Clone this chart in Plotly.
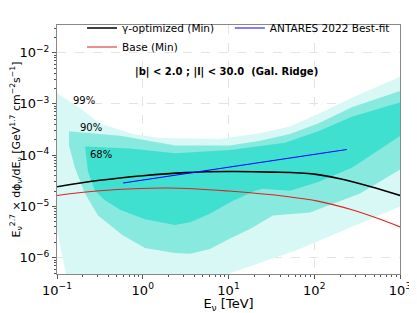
import plotly.graph_objects as go

# ---- data (E in TeV, flux in GeV^1.7 cm^-2 s^-1) ----
# 99% band
e99_up = [0.1, 0.201, 0.317, 0.769, 1.59, 4.66, 7.96, 23.3, 52.1, 111, 275, 1000]
f99_up = [1.64e-3, 7.57e-4, 4.14e-4, 2.58e-4, 2.17e-4, 2.08e-4, 2.08e-4, 2.69e-4, 3.64e-4, 6.37e-4, 1.32e-3, 3.41e-3]
e99_lo = [0.1, 0.127, 0.158, 1.0, 7.94, 9.86, 63.1, 1000]
f99_lo = [3.48e-6, 4.81e-7, 1.58e-7, 6.31e-8, 2.51e-7, 4.81e-7, 1.41e-6, 1.0e-5]
# 90% band
e90_up = [0.138, 0.573, 2.38, 10.4, 23.3, 52.1, 111, 275, 1000]
f90_up = [2.93e-4, 2.37e-4, 1.54e-4, 1.54e-4, 1.91e-4, 2.58e-4, 4.14e-4, 8.61e-4, 1.79e-3]
e90_lo = [0.138, 0.162, 0.212, 0.301, 0.573, 1.06, 2.38, 3.56, 6.08, 10.4, 17.8, 33.0, 45.6, 89.1, 342, 1000]
f90_lo = [1.54e-4, 5.71e-5, 1.79e-5, 6.64e-6, 2.81e-6, 1.54e-6, 1.24e-6, 1.19e-6, 1.47e-6, 2.37e-6, 3.64e-6, 6.64e-6, 6.93e-6, 7.59e-6, 1.79e-5, 5.25e-5]
# 68% band
e68_up = [0.212, 0.710, 2.38, 10.4, 45.6, 111, 275, 1000]
f68_up = [1.47e-4, 1.35e-4, 1.09e-4, 1.26e-4, 1.75e-4, 2.93e-4, 5.60e-4, 1.07e-3]
e68_lo = [0.212, 0.230, 0.277, 0.363, 0.543, 1.06, 2.38, 3.56, 6.08, 10.4, 20.4, 25.2, 52.1, 111, 275, 1000]
f68_lo = [1.47e-4, 4.81e-5, 2.03e-5, 1.32e-5, 8.61e-6, 5.60e-6, 4.33e-6, 4.92e-6, 7.24e-6, 1.21e-5, 2.03e-5, 2.22e-5, 2.03e-5, 3.00e-5, 5.71e-5, 2.37e-4]

# curves
e_gamma = [0.1, 0.316, 1, 3.16, 10, 31.6, 100, 200, 447, 1000]
f_gamma = [2.42e-5, 3.24e-5, 3.98e-5, 4.57e-5, 4.79e-5, 4.68e-5, 4.27e-5, 3.47e-5, 2.45e-5, 1.64e-5]
e_base = [0.1, 0.316, 2.0, 10, 50.1, 110, 275, 589, 1000]
f_base = [1.64e-5, 2.03e-5, 2.29e-5, 2.0e-5, 1.55e-5, 1.27e-5, 8.61e-6, 5.60e-6, 3.98e-6]
e_antares = [0.59, 240]
f_antares = [2.87e-5, 1.29e-4]

x_ticks = [0.1, 1, 10, 100, 1000]
x_ticktext = ["10<sup>−1</sup>", "10<sup>0</sup>", "10<sup>1</sup>", "10<sup>2</sup>", "10<sup>3</sup>"]
y_ticks = [1e-6, 1e-5, 1e-4, 1e-3, 1e-2]
y_ticktext = ["10<sup>−6</sup>", "10<sup>−5</sup>", "10<sup>−4</sup>", "10<sup>−3</sup>", "10<sup>−2</sup>"]

FONT = "DejaVu Sans"

fig = go.Figure()

def band(e_up, f_up, e_lo, f_lo, color):
    fig.add_trace(go.Scatter(
        x=e_up + e_lo[::-1], y=f_up + f_lo[::-1],
        fill="toself", fillcolor=color, mode="lines", line=dict(width=0),
        showlegend=False, hoverinfo="skip"))

band(e99_up, f99_up, e99_lo, f99_lo, "#d7f8f4")
band(e90_up, f90_up, e90_lo, f90_lo, "#88e9de")
band(e68_up, f68_up, e68_lo, f68_lo, "#40e0d0")

fig.add_trace(go.Scatter(x=e_gamma, y=f_gamma, mode="lines", name="γ-optimized (Min)",
                         line=dict(color="black", width=1.6, shape="spline"), legend="legend"))
fig.add_trace(go.Scatter(x=e_base, y=f_base, mode="lines", name="Base (Min)",
                         line=dict(color="#dd2020", width=1.1, shape="spline"), legend="legend"))
fig.add_trace(go.Scatter(x=e_antares, y=f_antares, mode="lines", name="ANTARES 2022 Best-fit",
                         line=dict(color="blue", width=1.1), legend="legend2"))

minor_x = [m * 10 ** k for k in range(-1, 3) for m in range(2, 10)]
minor_y = [m * 10 ** k for k in range(-7, -1) for m in range(2, 10)]

axis_common = dict(showline=True, linecolor="#888888", linewidth=1, mirror=True,
                   ticks="outside", ticklen=4, tickcolor="#555555", automargin=False,
                   showgrid=True, gridcolor="#e3e3e3", griddash="dash", gridwidth=1,
                   zeroline=False, tickfont=dict(family=FONT, size=13, color="black"))

fig.update_xaxes(type="log", range=[-1, 3], tickvals=x_ticks, ticktext=x_ticktext,
                 title=dict(text="E<sub>ν</sub> [TeV]", font=dict(family=FONT, size=13, color="black"), standoff=2),
                 minor=dict(tickvals=minor_x, ticks="outside", ticklen=2, tickcolor="#555555", showgrid=False),
                 **axis_common)
fig.update_yaxes(type="log", range=[-6.318, -1.46], tickvals=y_ticks, ticktext=y_ticktext,
                 title=dict(text="E<sub>ν</sub><sup>2.7</sup> × dϕ<sub>ν</sub>/dE<sub>ν</sub> [GeV<sup>1.7</sup> cm<sup>−2</sup>s<sup>−1</sup>]",
                            font=dict(family=FONT, size=11, color="black"), standoff=5),
                 minor=dict(tickvals=minor_y, ticks="outside", ticklen=2, tickcolor="#555555", showgrid=False),
                 **axis_common)

fig.add_annotation(text="<b>|b| < 2.0 ; |l| < 30.0  (Gal. Ridge)</b>", x=0.4956, y=0.8115,
                   xref="paper", yref="paper", showarrow=False, xanchor="center", yanchor="middle",
                   font=dict(family=FONT, size=10, color="black"))
for txt, xp, yp in [("99%", 0.0787, 0.696), ("90%", 0.099, 0.588), ("68%", 0.128, 0.481)]:
    fig.add_annotation(text=txt, x=xp, y=yp, xref="paper", yref="paper", showarrow=False,
                       xanchor="center", yanchor="middle",
                       font=dict(family=FONT, size=10, color="black"))

leg_common = dict(orientation="v", yanchor="top", xanchor="left", bgcolor="rgba(0,0,0,0)",
                  font=dict(family=FONT, size=10.5, color="black"), itemwidth=30, tracegroupgap=0)
fig.update_layout(
    width=409, height=305,
    margin=dict(l=49, r=17, t=6, b=39),
    plot_bgcolor="white", paper_bgcolor="white",
    font=dict(family=FONT, color="black"),
    legend=dict(x=0.073, y=1.046, **leg_common),
    legend2=dict(x=0.504, y=1.046, **leg_common),
)

fig.write_html("out.html")
